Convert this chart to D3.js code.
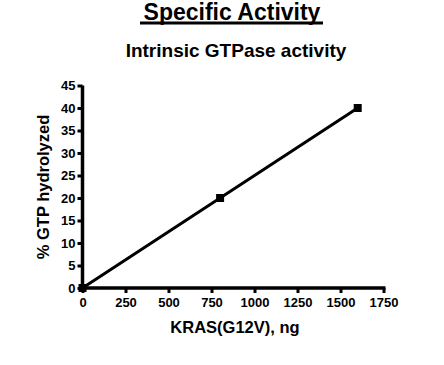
<!DOCTYPE html>
<html><head><meta charset="utf-8">
<script src="https://cdn.jsdelivr.net/npm/d3@7"></script>
<style>body{margin:0;background:#fff;} text{font-family:"Liberation Sans",Arial,sans-serif;font-weight:bold;}</style>
</head><body>
<svg id="c" width="444" height="365"></svg>
<script>
const xValues = [0, 800, 1600];
const yValues = [0, 20, 40];
const xTicks = [0, 250, 500, 750, 1000, 1250, 1500, 1750];
const yTicks = [0, 5, 10, 15, 20, 25, 30, 35, 40, 45];
const title = "Specific Activity";
const subtitle = "Intrinsic GTPase activity";
const xLabel = "KRAS(G12V), ng";
const yLabel = "% GTP hydrolyzed";

const svg = d3.select("#c");
const x = d3.scaleLinear().domain([0, 1750]).range([82.5, 383.5]);
const y = d3.scaleLinear().domain([0, 45]).range([288, 85.5]);

svg.append("text").attr("x", 232).attr("y", 20).attr("text-anchor", "middle")
  .attr("font-size", 23).text(title);
svg.append("line").attr("x1", 140).attr("x2", 323).attr("y1", 23).attr("y2", 23)
  .attr("stroke", "#000").attr("stroke-width", 3);
svg.append("text").attr("x", 236).attr("y", 57).attr("text-anchor", "middle")
  .attr("font-size", 19).text(subtitle);

const xAxis = svg.append("g").attr("transform", "translate(0,288)")
  .call(d3.axisBottom(x).tickValues(xTicks).tickSize(5).tickPadding(5).tickFormat(d3.format("d")));
const yAxis = svg.append("g").attr("transform", "translate(82.5,0)")
  .call(d3.axisLeft(y).tickValues(yTicks).tickSize(5).tickPadding(2).tickFormat(d3.format("d")));
[xAxis, yAxis].forEach(a => {
  a.select(".domain").attr("stroke-width", 3.5).attr("stroke", "#000");
  a.selectAll(".tick line").attr("stroke-width", 3).attr("stroke", "#000");
  a.selectAll(".tick text").attr("font-size", 13).attr("fill", "#000")
    .style("font-family", '"Liberation Sans",Arial,sans-serif').style("font-weight", "bold");
});
// replace axis domain paths to remove outer ticks
xAxis.select(".domain").attr("d", `M${x(0)},0H${x(1750)+2}`);
yAxis.select(".domain").attr("d", `M0,${y(0)+2}V${y(45)}`);

svg.append("text").attr("x", 235).attr("y", 333).attr("text-anchor", "middle")
  .attr("font-size", 16.5).text(xLabel);
svg.append("text").attr("transform", "translate(49,187) rotate(-90)").attr("text-anchor", "middle")
  .attr("font-size", 16.5).text(yLabel);

const pts = xValues.map((v, i) => [v, yValues[i]]);
svg.append("path").datum(pts)
  .attr("d", d3.line().x(d => x(d[0])).y(d => y(d[1])))
  .attr("fill", "none").attr("stroke", "#000").attr("stroke-width", 3);
svg.selectAll("rect.pt").data(pts).enter().append("rect").attr("class", "pt")
  .attr("x", d => x(d[0]) - 4).attr("y", d => y(d[1]) - 4)
  .attr("width", 8).attr("height", 8).attr("fill", "#000");
</script>
</body></html>
